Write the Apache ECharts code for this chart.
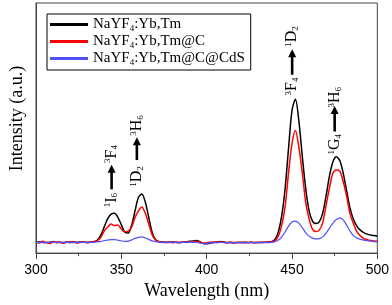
<!DOCTYPE html>
<html><head><meta charset="utf-8">
<script src="https://cdn.jsdelivr.net/npm/echarts@6/dist/echarts.min.js"></script>
<style>html,body{margin:0;padding:0;background:#fff}#c{width:392px;height:305px}</style>
</head><body><div id="c"></div>
<script>
var wavelengths = [300,302,304,306,308,310,312,314,316,318,320,322,324,326,328,330,332,334,
336,338,340,342,344,346,348,350,352,354,356,358,360,362,364,366,368,370,372,374,
376,378,380,382,384,386,388,390,392,394,396,398,400,402,404,406,408,410,412,414,416,418,420,422,424,426,428,430,432,434,
436,438,440,442,444,446,448,450,452,454,456,458,460,462,464,466,468,470,472,474,476,478,480,482,484,486,488,490,492,494,496,498,500];
var seriesNames = ['NaYF4:Yb,Tm','NaYF4:Yb,Tm@C','NaYF4:Yb,Tm@C@CdS'];
var blackVals = [43,44,43,42,43,44,43,43,42,43,44,43,43,44,43,43,44,45,
52,72,105,138,156,159,143,113,84,80,110,168,222,236,205,145,85,54,46,44,
43,43,44,43,42,43,45,47,48,50,46,38,37,40,42,44,46,44,42,42,41,42,43,42,42,43,42,42,43,43,
44,46,55,85,150,260,420,570,615,530,390,260,170,128,118,125,160,230,310,365,385,370,320,250,180,135,108,92,82,76,72,70,68];
var redVals = [45,40,47,42,38,46,41,44,39,45,42,46,40,43,45,41,44,46,
50,63,88,104,116,110,112,96,85,88,104,142,168,184,160,118,74,53,46,43,
42,45,41,44,42,44,43,46,44,47,44,40,41,43,44,42,45,43,41,44,42,43,41,44,42,43,41,43,42,43,
44,45,50,68,112,188,322,438,490,425,325,205,138,96,86,92,122,192,262,320,332,328,286,228,158,118,86,69,58,54,50,48,47];
var blueVals = [42,43,42,42,43,42,43,42,42,43,42,42,43,42,43,42,43,43,
45,47,50,52,54,54,52,49,47,48,53,59,63,65,61,55,49,46,44,43,
42,42,43,42,42,43,43,44,44,43,40,38,39,41,42,42,43,42,41,42,41,42,42,41,42,42,41,42,42,42,
42,43,46,52,65,85,108,124,128,120,102,82,68,60,57,58,65,80,100,120,134,141,133,112,88,70,60,55,52,50,48,46,45];
var xTicks = [300,350,400,450,500];
var annotations = [
  {x:344.3, yLow:212, yTail:255, yTip:353, yHigh:396, low:['1','I','6'], high:['3','F','4']},
  {x:359.1, yLow:306, yTail:372, yTip:463, yHigh:510, low:['1','D','2'], high:['3','H','6']},
  {x:450.1, yLow:666, yTail:713, yTip:815, yHigh:866, low:['3','F','4'], high:['1','D','2']},
  {x:475.0, yLow:435, yTail:486, yTip:588, yHigh:623, low:['1','G','4'], high:['3','H','6']}
];
var colors = ['#000000','#ff0000','#5050ff'];
var valsList = [blackVals, redVals, blueVals];

var serif = 'Liberation Serif';
var chart = echarts.init(document.getElementById('c'), null, {renderer:'canvas'});
var series = valsList.map(function(v, i){
  return {
    name: seriesNames[i], type:'line', showSymbol:false, symbol:'none',
    data: wavelengths.map(function(w, k){ return [w, v[k]]; }),
    lineStyle:{color:colors[i], width: i===2 ? 1.2 : 1.5},
    itemStyle:{color:colors[i]}, smooth: 0.3, animation:false, z: 2+i
  };
});
chart.setOption({
  animation:false,
  grid:{left:29, right:10, top:3, bottom:47, show:true, borderColor:'#444', borderWidth:1},
  legend:{
    orient:'vertical', left:47, top:14,
    data: seriesNames.map(function(n){ return {name:n, icon:'rect'}; }),
    borderColor:'#000', borderWidth:1, padding:[2,6,3,3],
    itemWidth:38, itemHeight:3, itemGap:0,
    textStyle:{fontFamily:serif, fontSize:15, color:'#000', lineHeight:17,
      rich:{sub:{fontFamily:serif, fontSize:9, verticalAlign:'bottom', padding:[6,0,0,0]}}},
    formatter:function(n){ return n.replace('NaYF4', 'NaYF{sub|4}'); }
  },
  xAxis:{type:'value', min:300, max:500, interval:50,
    axisLine:{lineStyle:{color:'#444', width:1}},
    axisTick:{inside:false, length:6, lineStyle:{color:'#444'}},
    minorTick:{show:true, splitNumber:2, length:3, lineStyle:{color:'#444'}},
    splitLine:{show:false},
    axisLabel:{fontFamily:'Liberation Sans', fontSize:14, color:'#000', margin:10,
      formatter:function(v){ return xTicks.indexOf(v)>=0 ? String(v) : ''; }},
    name:'Wavelength (nm)', nameLocation:'middle', nameGap:25,
    nameTextStyle:{fontFamily:serif, fontSize:18, color:'#000'}
  },
  yAxis:{type:'value', min:0, max:1000,
    axisLine:{show:true, lineStyle:{color:'#444'}}, axisTick:{show:false}, axisLabel:{show:false},
    splitLine:{show:false},
    name:'Intensity (a.u.)', nameLocation:'middle', nameGap:10, nameRotate:90,
    nameTextStyle:{fontFamily:serif, fontSize:18, color:'#000', padding:[0,0,0,19]}
  },
  series: series
});

function richLabel(parts, px, py){
  return {type:'text', x:px, y:py, rotation:Math.PI/2, z:50,
    style:{text:'{sup|'+parts[0]+'}'+parts[1]+'{sub|'+parts[2]+'}',
      fontFamily:serif, fontSize:16, fill:'#000', align:'center', verticalAlign:'middle',
      rich:{sup:{fontFamily:serif, fontSize:9, fill:'#000', verticalAlign:'top', padding:[0,0,7,0]},
            sub:{fontFamily:serif, fontSize:9, fill:'#000', verticalAlign:'bottom', padding:[7,0,0,0]}}}};
}
var g = [];
annotations.forEach(function(a){
  var pLow = chart.convertToPixel({gridIndex:0}, [a.x, a.yLow]);
  var pTail = chart.convertToPixel({gridIndex:0}, [a.x, a.yTail]);
  var pTip = chart.convertToPixel({gridIndex:0}, [a.x, a.yTip]);
  var pHigh = chart.convertToPixel({gridIndex:0}, [a.x, a.yHigh]);
  g.push(richLabel(a.low, pLow[0], pLow[1]));
  g.push(richLabel(a.high, pHigh[0], pHigh[1]));
  g.push({type:'line', z:50, shape:{x1:pTail[0], y1:pTail[1], x2:pTip[0], y2:pTip[1]+6},
    style:{stroke:'#000', lineWidth:2.6}});
  g.push({type:'polygon', z:50, shape:{points:[[pTip[0],pTip[1]],[pTip[0]-4,pTip[1]+8],[pTip[0]+4,pTip[1]+8]]},
    style:{fill:'#000'}});
});
chart.setOption({graphic:g});
</script></body></html>
